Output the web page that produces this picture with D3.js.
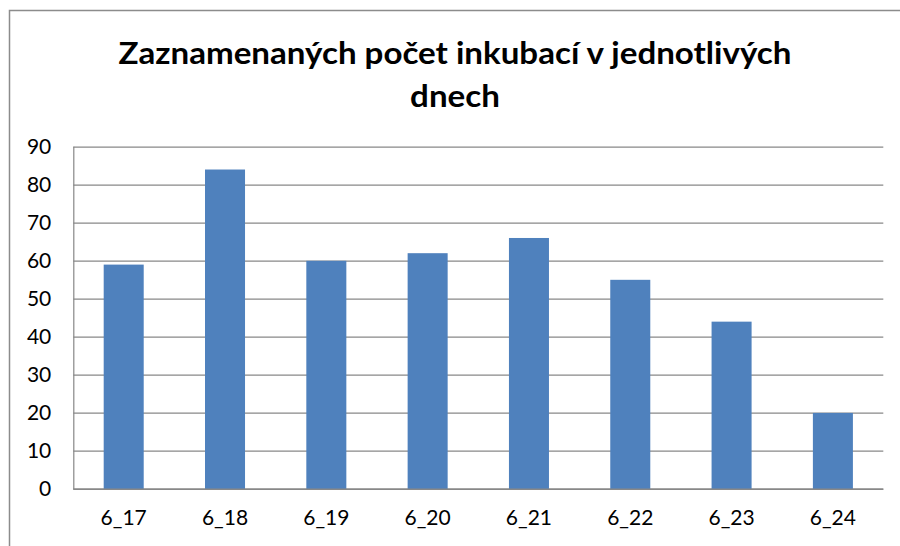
<!DOCTYPE html>
<html>
<head>
<meta charset="utf-8">
<script src="https://cdn.jsdelivr.net/npm/d3@7"></script>
<style>
  body { margin: 0; background: #fff; }
  svg { display: block; }
</style>
</head>
<body>
<svg id="chart" width="900" height="546"></svg>
<script>
var days = ["6_17", "6_18", "6_19", "6_20", "6_21", "6_22", "6_23", "6_24"]
var counts = [59, 84, 60, 62, 66, 55, 44, 20]
var yTicks = [0, 10, 20, 30, 40, 50, 60, 70, 80, 90]
var titleLines = ["Zaznamenaných počet inkubací v jednotlivých", "dnech"]

var dimensions = {
    width: 900,
    height: 546,
    margin: {top: 146.7, bottom: 57, left: 73.3, right: 16.7}
}
var innerW = dimensions.width - dimensions.margin.left - dimensions.margin.right
var innerH = dimensions.height - dimensions.margin.top - dimensions.margin.bottom

var svg = d3.select("#chart")

// outer chart frame (right and bottom fall outside the picture)
svg.append("rect")
   .attr("x", 9.5)
   .attr("y", 10.5)
   .attr("width", 900)
   .attr("height", 600)
   .attr("fill", "none")
   .attr("stroke", "#8c8c8c")
   .attr("stroke-width", 1.5)

var x = d3.scaleBand()
          .domain(days)
          .range([0, innerW])
          .paddingInner(0.605)
          .paddingOuter(0.3)

var y = d3.scaleLinear()
          .domain([0, 90])
          .range([innerH, 0])

var g = svg.append("g")
           .attr("transform", `translate(${dimensions.margin.left},${dimensions.margin.top})`)

// gridlines
g.append("g")
 .selectAll("line")
 .data(yTicks)
 .enter()
 .append("line")
 .attr("x1", 0)
 .attr("x2", innerW)
 .attr("y1", d => Math.round(y(d)) + 0.5)
 .attr("y2", d => Math.round(y(d)) + 0.5)
 .attr("stroke", "#888888")
 .attr("stroke-width", 1.2)

g.append("line")
 .attr("x1", 0.5).attr("x2", 0.5)
 .attr("y1", 0).attr("y2", innerH)
 .attr("stroke", "#888888")
 .attr("stroke-width", 1.2)

g.selectAll(".bar")
 .data(counts)
 .enter()
 .append("rect")
 .attr("class", "bar")
 .attr("x", (d, i) => x(days[i]))
 .attr("y", d => y(d))
 .attr("width", x.bandwidth())
 .attr("height", d => innerH - y(d))
 .attr("fill", "#4f81bd")

// redraw baseline on top of bars
g.append("line")
 .attr("x1", 0).attr("x2", innerW)
 .attr("y1", Math.round(innerH) + 0.5).attr("y2", Math.round(innerH) + 0.5)
 .attr("stroke", "#888888")
 .attr("stroke-width", 1.5)

var yAxis = d3.axisLeft(y).tickValues(yTicks).tickSize(0).tickPadding(22)
g.append("g")
 .call(yAxis)
 .call(a => a.select(".domain").remove())
 .selectAll("text")
 .attr("font-family", "Lato, 'Open Sans', sans-serif")
 .attr("font-size", "21px")
 .attr("fill", "#000")

var xAxis = d3.axisBottom(x).tickSize(0).tickPadding(21)
g.append("g")
 .attr("transform", `translate(0,${innerH})`)
 .call(xAxis)
 .call(a => a.select(".domain").remove())
 .selectAll("text")
 .attr("font-family", "Lato, 'Open Sans', sans-serif")
 .attr("font-size", "21px")
 .attr("fill", "#000")

var title = svg.append("g")
var titleText = title.selectAll("text")
     .data(titleLines)
     .enter()
     .append("text")
     .attr("x", 455)
     .attr("y", (d, i) => 64 + i * 43)
     .attr("text-anchor", "middle")
     .attr("font-family", "Lato, 'Open Sans', sans-serif")
     .attr("font-weight", "bold")
     .attr("font-size", "30px")
     .attr("fill", "#000")
     .text(d => d)

// squeeze the title horizontally so it reads like the narrow original face
var widths = titleText.nodes().map(n => n.getComputedTextLength())
var squeeze = 673 / widths[0]
titleText.attr("textLength", (d, i) => widths[i] * squeeze)
         .attr("lengthAdjust", "spacingAndGlyphs")
</script>
</body>
</html>
